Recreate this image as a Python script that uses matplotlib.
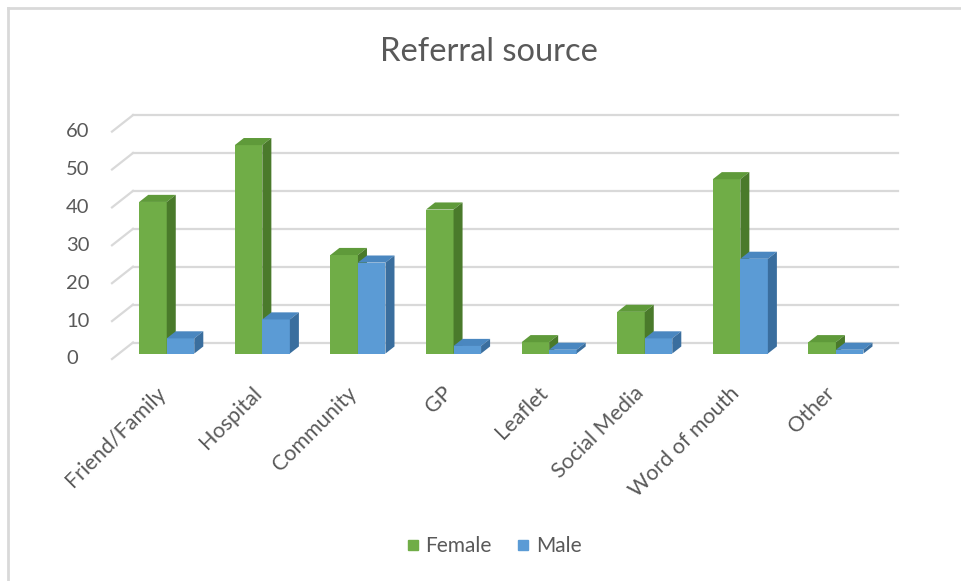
import matplotlib.pyplot as plt
from matplotlib.patches import Polygon
from matplotlib.lines import Line2D

categories = ["Friend/Family", "Hospital", "Community", "GP", "Leaflet",
              "Social Media", "Word of mouth", "Other"]
female = [40, 55, 26, 38, 3, 11, 46, 3]
male = [4, 9, 24, 2, 1, 4, 25, 1]
yticks = [0, 10, 20, 30, 40, 50, 60]

plt.rcParams['font.family'] = ['Lato', 'DejaVu Sans']
txt = '#595959'
grid = '#d9d9d9'

W, H = 961, 581
fig = plt.figure(figsize=(W / 100, H / 100), dpi=100)

# plot area in pixels, and the scale of the front plane
L, R, B, T = 100, 910, 370, 105
x0px, y0px = 112, 359
px_x, px_y = 95.6, 3.79
ax = fig.add_axes([L / W, 1 - B / H, (R - L) / W, (B - T) / H])
ax.set_xlim((L - x0px) / px_x - 0.5, (R - x0px) / px_x - 0.5)
ax.set_ylim((y0px - B) / px_y, (y0px - T) / px_y)
ax.axis('off')

# depth of the 3d box (front -> back wall)
DX, DY = 21 / px_x, 16.5 / px_y


def proj(x, y, z):
    return x + z * DX, y + z * DY


n = len(categories)
x_left, x_right = -0.5, n - 0.5

# back wall + side wall gridlines
for v in yticks:
    a = proj(x_left, v, 1)
    b = proj(x_right, v, 1)
    c = proj(x_left, v, 0)
    ax.plot([a[0], b[0]], [a[1], b[1]], color=grid, lw=1.6, zorder=1)
    ax.plot([c[0], a[0]], [c[1], a[1]], color=grid, lw=1.6, zorder=1)
    ax.text((66 - x0px) / px_x - 0.5, v, str(v), ha='left', va='center',
            fontsize=14.5, color=txt)

# bars
bw = 0.288
zf, bd = 0.33, 0.43
series = [(female, '#70ad47', '#5f9a3a', '#4a7a2b', 0),
          (male, '#5b9bd5', '#4a87c0', '#3a6e9e', 1)]
for i in range(n):
    for vals, front, top_c, side_c, k in series:
        v = vals[i]
        xl = i - bw + k * bw
        xr = xl + bw
        fx, fy = proj(xl, 0, zf)
        ax.bar(fx, v, width=bw, bottom=fy, align='edge', color=front,
               lw=0, zorder=3 + i * 2 + k)
        top = [proj(xl, v, zf), proj(xl + bw, v, zf),
               proj(xl + bw, v, zf + bd), proj(xl, v, zf + bd)]
        side = [proj(xr, 0, zf), proj(xr, v, zf),
                proj(xr, v, zf + bd), proj(xr, 0, zf + bd)]
        ax.add_patch(Polygon(top, closed=True, fc=top_c, lw=0,
                             zorder=3 + i * 2 + k))
        ax.add_patch(Polygon(side, closed=True, fc=side_c, lw=0,
                             zorder=3 + i * 2 + k))

# category labels
for i, c in enumerate(categories):
    ax.text(i + 0.03, (y0px - 390) / px_y, c, rotation=45, ha='right',
            va='center', rotation_mode='anchor', fontsize=15.5, color=txt)

fig.text(489 / W, 1 - 52 / H, 'Referral source', ha='center', va='center',
         fontsize=23.5, color=txt)

handles = [Line2D([], [], marker='s', ls='none', color='#70ad47', markersize=7.5),
           Line2D([], [], marker='s', ls='none', color='#5b9bd5', markersize=7.5)]
leg = fig.legend(handles, ['Female', 'Male'], loc='center', ncol=2,
                 bbox_to_anchor=(492 / W, 1 - 546 / H), frameon=False,
                 fontsize=15, handletextpad=0.1, columnspacing=1.0,
                 handlelength=1.0)
for t in leg.get_texts():
    t.set_color(txt)

# chart border (left and top edges)
fig.add_artist(Line2D([8 / W, 8 / W], [0, 1 - 8 / H], color=grid, lw=2))
fig.add_artist(Line2D([8 / W, 1], [1 - 8 / H, 1 - 8 / H], color=grid, lw=2))

fig.savefig('out.png', dpi=100, facecolor='white')
